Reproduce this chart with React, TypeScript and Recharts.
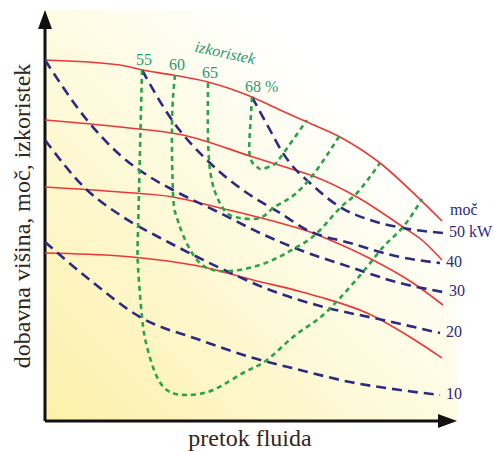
import { LineChart, Line, XAxis, YAxis, ReferenceArea, ReferenceLine, ReferenceDot } from 'recharts';

// relative units: pretok (q) 0..103, dobavna višina (h) 0..102.75
const head1 = [[0, 90.25], [18.75, 89], [24.25, 87.75], [32, 86.5], [40.75, 84.75], [51.75, 81], [58.75, 77.75], [65.5, 74.75], [73.75, 71], [83.75, 64.5], [93.75, 55.4], [99.25, 50]];
const head2 = [[0, 75.25], [18.75, 73.5], [34.5, 71.5], [52, 66], [61.25, 63.1], [67, 61.25], [78, 56], [89.5, 48.5], [94.5, 45], [99.25, 40.25]];
const head3 = [[0, 58.5], [18.75, 57.25], [32, 56], [43.75, 53.25], [58.75, 49.5], [67, 47], [71.25, 45.25], [80.5, 41], [92, 34.5], [99.5, 29]];
const head4 = [[0, 42], [18.75, 41.25], [39.5, 38.5], [52, 35.25], [63.75, 32.4], [68.75, 31], [80.5, 27], [91.25, 21], [99.25, 15.75]];

// moč (kW)
const power50 = [[51.75, 81], [56.25, 72.75], [59, 67.75], [61.25, 64.5], [66.25, 59.5], [73.75, 53.5], [81.25, 50.25], [89.5, 48.25], [99.5, 47]];
const power40 = [[24.25, 87.75], [31.75, 75.25], [41.25, 64.5], [50.5, 57], [58.75, 52], [65.5, 47.75], [76.25, 44.5], [88.75, 41], [98.75, 39.5]];
const power30 = [[0, 90.25], [10.5, 75.25], [18.75, 66.5], [26.25, 61], [32, 57.75], [43.75, 52], [53.75, 47], [63.75, 42.75], [76.25, 38.5], [88.75, 34.5], [99.5, 32.25]];
const power20 = [[0, 70.25], [10.5, 57.75], [18.75, 51.5], [31.25, 44.5], [43.75, 38.25], [56.25, 32.75], [68.75, 28.75], [84.5, 25.25], [98.75, 22]];
const power10 = [[0, 44.75], [11.25, 35.25], [23.75, 26], [38.75, 20.25], [51.25, 16], [63.75, 12.75], [76.25, 9.75], [88.75, 7.75], [98.75, 6.5]];
const powerNames = ['50 kW', '40', '30', '20', '10'];

// izkoristek (%)
const eff55 = [[24.25, 87.75], [23.75, 67.75], [23.25, 47.75], [23.25, 38.5], [24.25, 26], [25.5, 18.5], [28, 11], [31.25, 7.25], [35.5, 6.5], [42, 7.75], [49.5, 12], [55.5, 15.25], [62, 21], [68, 25.25], [73.75, 30.75], [80.5, 38.5], [85, 44], [89.5, 48.5], [94.25, 55.5]];
const eff60 = [[32.5, 86.5], [31.75, 74.5], [32, 57], [32.75, 51.5], [34.5, 46.5], [38, 40.25], [42, 37.75], [46.25, 37.5], [52, 38.5], [58, 40.75], [63, 43.5], [68, 47], [73.75, 53.25], [78, 57], [83.75, 64.5]];
const eff65 = [[40.75, 84.5], [41, 65.25], [43, 56], [45.5, 52], [48.75, 50.75], [53.75, 50.75], [57, 53.25], [61.25, 55.75], [67, 61.5], [73.75, 71.5]];
const eff68 = [[51.75, 81], [51.25, 72.75], [51.25, 66], [53, 63.5], [54.5, 63], [57, 64], [58.75, 65.75], [65.5, 75.25]];
const effNames = ['55', '60', '65', '68 %'];
const effTitle = { q: 44.75, h: 90.75, text: 'izkoristek' };

const Q_MAX = 103;
const H_MAX = 102.75;

const toPts = (arr: number[][]) => arr.map(([q, h]) => ({ q, h }));

const RED = '#e8383a';
const BLUE = '#2d2a80';
const GREEN = '#2ca24a';
const TEXT_GREEN = '#2a9a70';
const INK = '#33261d';
const SERIF = 'Liberation Serif, serif';

const endLabel = (name: string, last: number) => (p: any) => {
  if (p.index !== last) return <g />;
  return (
    <g>
      {name === '50 kW' && (
        <text x={p.x + 7} y={p.y - 18} fill={BLUE} fontSize={16} fontFamily={SERIF}>moč</text>
      )}
      <text x={p.x + 6} y={p.y + 4} fill={BLUE} fontSize={16} fontFamily={SERIF}>{name}</text>
    </g>
  );
};

const startLabel = (name: string) => (p: any) => {
  if (p.index !== 0) return <g />;
  const wide = name.includes('%');
  return (
    <text
      x={wide ? p.x - 7 : p.x + 2}
      y={p.y - 5}
      textAnchor={wide ? 'start' : 'middle'}
      fill={TEXT_GREEN}
      fontSize={16}
      fontFamily={SERIF}
    >
      {name}
    </text>
  );
};

// arrow heads for the axes
const upArrow = (p: any) => (
  <path d={`M${p.cx},${p.cy} L${p.cx - 7},${p.cy + 19} L${p.cx + 7},${p.cy + 19} Z`} fill="#111" />
);
const rightArrow = (p: any) => (
  <path d={`M${p.cx},${p.cy} L${p.cx - 19},${p.cy - 7} L${p.cx - 19},${p.cy + 7} Z`} fill="#111" />
);

export default function App() {
  const heads = [head1, head2, head3, head4];
  const powers = [power50, power40, power30, power20, power10];
  const effs = [eff55, eff60, eff65, eff68];

  return (
    <div style={{ position: 'absolute', left: 0, top: 0, width: 494, height: 452, background: '#fff' }}>
      <LineChart width={494} height={452} margin={{ top: 10, right: 37, bottom: 31, left: 45 }}>
        <defs>
          <linearGradient id="bgGrad" x1="0" y1="1" x2="1" y2="0">
            <stop offset="0%" stopColor="#fcf0a8" />
            <stop offset="45%" stopColor="#fefadd" />
            <stop offset="75%" stopColor="#ffffff" />
          </linearGradient>
        </defs>
        <XAxis dataKey="q" type="number" domain={[0, Q_MAX]} allowDataOverflow hide />
        <YAxis dataKey="h" type="number" domain={[0, H_MAX]} allowDataOverflow hide />
        <ReferenceArea x1={0} x2={Q_MAX} y1={0} y2={H_MAX} fill="url(#bgGrad)" fillOpacity={1} stroke="none" ifOverflow="visible" />
        <ReferenceLine segment={[{ x: 0, y: 0 }, { x: 0, y: H_MAX - 3 }]} stroke="#111" strokeWidth={3} ifOverflow="visible" />
        <ReferenceLine segment={[{ x: 0, y: 0 }, { x: Q_MAX - 3, y: 0 }]} stroke="#111" strokeWidth={3} ifOverflow="visible" />
        <ReferenceDot x={0} y={H_MAX} r={0} ifOverflow="visible" shape={upArrow} />
        <ReferenceDot x={Q_MAX} y={0} r={0} ifOverflow="visible" shape={rightArrow} />
        <ReferenceDot
          x={effTitle.q}
          y={effTitle.h}
          r={0}
          ifOverflow="visible"
          shape={(p: any) => (
            <text x={p.cx} y={p.cy} transform={`rotate(12, ${p.cx}, ${p.cy})`} textAnchor="middle"
              fill={TEXT_GREEN} fontSize={16} fontStyle="italic" fontFamily={SERIF}>{effTitle.text}</text>
          )}
        />
        {heads.map((d, i) => (
          <Line key={'h' + i} data={toPts(d)} dataKey="h" type="monotone" stroke={RED} strokeWidth={1.6}
            dot={false} activeDot={false} isAnimationActive={false} />
        ))}
        {powers.map((d, i) => (
          <Line key={'p' + i} data={toPts(d)} dataKey="h" type="monotone" stroke={BLUE} strokeWidth={2.6}
            strokeDasharray="10 6" dot={false} activeDot={false} isAnimationActive={false}
            label={endLabel(powerNames[i], d.length - 1)} />
        ))}
        {effs.map((d, i) => (
          <Line key={'e' + i} data={toPts(d)} dataKey="h" type="natural" stroke={GREEN} strokeWidth={2.6}
            strokeDasharray="5 4" dot={false} activeDot={false} isAnimationActive={false}
            label={startLabel(effNames[i])} />
        ))}
        <text x={30} y={216} transform="rotate(-90, 30, 216)" textAnchor="middle" fill={INK}
          fontSize={24} fontFamily={SERIF}>dobavna višina, moč, izkoristek</text>
        <text x={250} y={446} textAnchor="middle" fill={INK} fontSize={24}
          fontFamily={SERIF}>pretok fluida</text>
      </LineChart>
    </div>
  );
}
